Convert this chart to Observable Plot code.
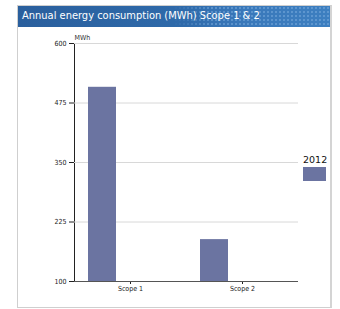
<!DOCTYPE html>
<html>
<head>
<meta charset="utf-8">
<script src="https://cdn.jsdelivr.net/npm/d3@7"></script>
<script src="https://cdn.jsdelivr.net/npm/@observablehq/plot@0.6"></script>
<style>
  html, body { margin: 0; padding: 0; background: #fff; width: 340px; height: 309px; overflow: hidden; font-family: "DejaVu Sans", sans-serif; }
  #panel { position: absolute; left: 17px; top: 5px; width: 312px; height: 301px; border: 1px solid #cfcfcf; border-right: 2px solid #d4d4d4; background: #fff; }
  #header { position: absolute; left: 0; top: 0; width: 100%; height: 21px;
    background:
      radial-gradient(circle, rgba(120,170,220,0.55) 0.9px, transparent 1.2px) 0 0 / 4px 4px,
      linear-gradient(to right, #2a5f9d 0%, #2d68a8 45%, #3a79bb 75%, #3d7fc0 100%);
    color: #fff; font-family: "DejaVu Sans Condensed", "DejaVu Sans", sans-serif; font-stretch: condensed; font-size: 11px; line-height: 20px; padding-left: 4px; box-sizing: border-box; white-space: nowrap; }
  #headerSolid { position:absolute; left:0; top:0; height:21px; width:62%; background: linear-gradient(to right, #2a5f9d, #2e69a9 80%, rgba(46,105,169,0)); }
  #headerText { position: relative; }
  #chart { position: absolute; left: 0; top: 28px; }
  #legend { position: absolute; left: 303px; top: 154px; }
  #legend .lbl { font-size: 9.5px; color: #111; text-align: center; width: 23px; }
  #legend .sw { width: 23px; height: 14px; background: #6b74a1; margin-top: 2px; }
</style>
</head>
<body>
<div id="panel"><div id="header"><div id="headerSolid"></div><span id="headerText"></span></div></div>
<div id="chart"></div>
<div id="legend"><div class="lbl"></div><div class="sw"></div></div>
<script>
const titleText = "Annual energy consumption (MWh) Scope 1 & 2";
const scopes = ["Scope 1", "Scope 2"];
const values2012 = [508, 188];
const seriesName = "2012";
const yTicks = [100, 225, 350, 475, 600];
const yUnit = "MWh";

document.getElementById("headerText").textContent = titleText;
document.querySelector("#legend .lbl").textContent = seriesName;

const data = scopes.map((s, i) => ({scope: s, series: seriesName, value: values2012[i]}));

const chart = Plot.plot({
  width: 340,
  height: 270,
  marginTop: 15,
  marginBottom: 17,
  marginLeft: 73,
  marginRight: 42,
  style: {fontFamily: "DejaVu Sans Condensed, DejaVu Sans, sans-serif", fontSize: "7px", color: "#222", background: "transparent"},
  fx: {domain: scopes, padding: 0, tickSize: 3, tickPadding: 2, label: null},
  x: {domain: [seriesName, "_"], paddingInner: 0.5, paddingOuter: 0.25, axis: null},
  y: {domain: [100, 600], ticks: yTicks, tickSize: 5, tickPadding: 3, label: null, line: true, grid: false},
  marks: [
    Plot.gridY(yTicks.slice(1), {stroke: "#d8d8d8", strokeOpacity: 1}),
    Plot.barY(data, {fx: "scope", x: "series", y1: 100, y2: "value", fill: "#6b74a1"}),
    Plot.ruleY([100], {stroke: "#555", strokeWidth: 1.2}),
    Plot.text([yUnit], {fx: () => scopes[0], text: d => d, frameAnchor: "top-left", textAnchor: "start", dy: -8, fill: "#333"})
  ]
});
document.getElementById("chart").appendChild(chart);
</script>
</body>
</html>
